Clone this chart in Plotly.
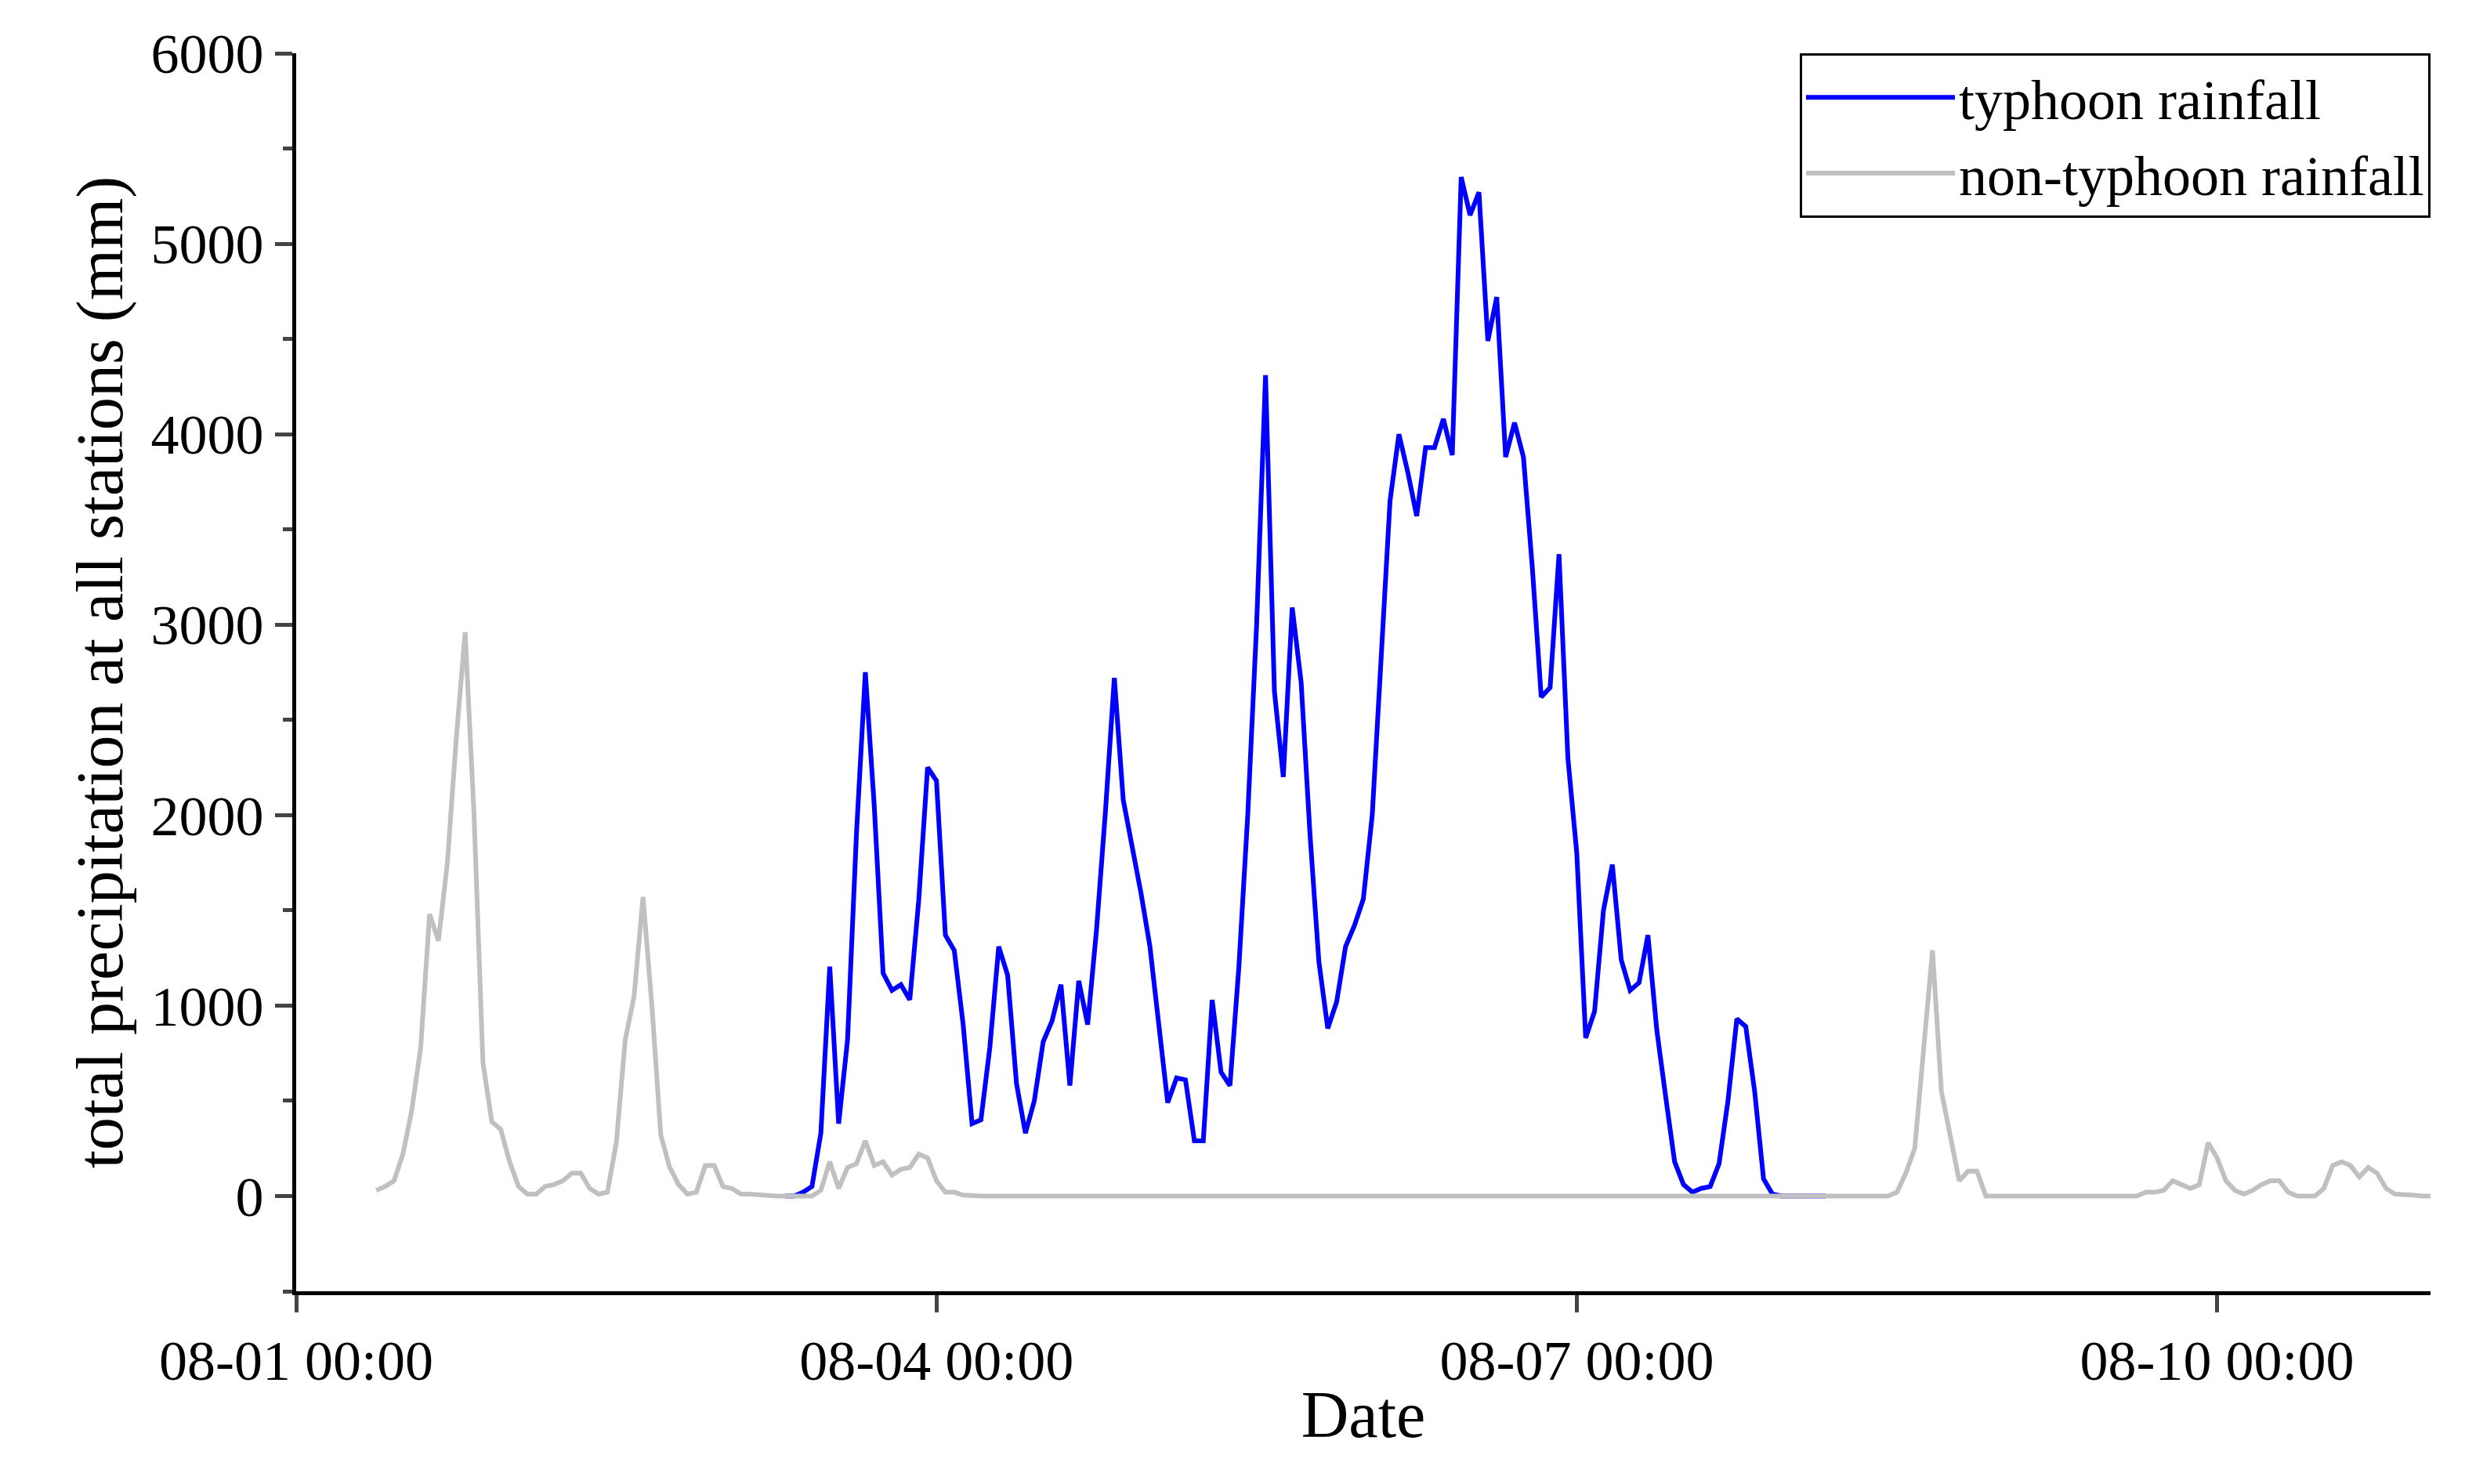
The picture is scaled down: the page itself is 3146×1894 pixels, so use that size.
import plotly.graph_objects as go
import pandas as pd

start = pd.Timestamp("2023-08-01 00:00")

gray_start_hour = 9
gray_values = ([30,50,80,220,450,780,1480,1340,1750,2400,2960,2000,700,390,350,180,50,10,10,50,
                60,80,120,120,40,10,20,280,820,1050,1570,1000,320,150,60,10,20,160,160,50,40,10,10,5]
               + [0]*6
               + [30,180,40,150,170,290,160,180,110,140,150,220,200,80,20,20,5]
               + [0]*104
               + [20,120,250,800,1290,550,300,80,130,130,0]
               + [0]*17
               + [20,20,30,80,60,40,60,280,200,80,30,10,30,60,80,80,20,0,0,0,40,
                  160,180,160,100,150,120,40,10,10,5,0,0])

blue_start_hour = 55
blue_values = ([0,0,20,50,330,1205,380,820,1900,2750,2050,1170,1080,1110,1030,1550,2250,2180,1370,1290,
                900,380,400,780,1310,1160,590,330,500,810,920,1110,580,1130,900,1400,2020,2720,2080,1850,
                1590,1310,900,490,620,610,290,290,1030,650,580,1200,2000,3000,4310,2650,2200,3090,2700,1900,
                1230,880,1020,1310,1420,1560,2000,2800,3650,4000,3800,3570,3930,3930,4080,3890,5350,5150,5270,4490,
                4720,3880,4060,3880,3300,2620,2670,3370,2300,1800,830,970,1500,1740,1240,1080,1120,1370,870,520,
                180,60,20,40,50,170,500,930,890,550,90,10]
               + [0]*6)

gray_t = [start + pd.Timedelta(hours=gray_start_hour + i) for i in range(len(gray_values))]
blue_t = [start + pd.Timedelta(hours=blue_start_hour + i) for i in range(len(blue_values))]

font = "Liberation Serif"
fig = go.Figure()
fig.add_trace(go.Scatter(x=blue_t, y=blue_values, mode="lines", name="typhoon rainfall",
                         line=dict(color="#0000FF", width=6)))
fig.add_trace(go.Scatter(x=gray_t, y=gray_values, mode="lines", name="non-typhoon rainfall",
                         line=dict(color="#C0C0C0", width=6)))

fig.update_layout(
    width=3146, height=1894, plot_bgcolor="white", paper_bgcolor="white",
    margin=dict(l=370, r=52, t=60, b=254),
    font=dict(family=font, size=72, color="black"),
    legend=dict(x=1, y=1, xanchor="right", yanchor="top", bordercolor="black", borderwidth=3,
                bgcolor="white", font=dict(size=72), itemwidth=190),
    xaxis=dict(range=[start, start + pd.Timedelta(days=10)], tickformat="%m-%d %H:%M",
               tick0=start, dtick=3*86400000, showline=True, linecolor="black", linewidth=5,
               ticks="outside", ticklen=22, tickwidth=5, showgrid=False,
               title=dict(text="Date", font=dict(size=84), standoff=0), tickfont=dict(size=72)),
    yaxis=dict(range=[-500, 6000], tick0=0, dtick=1000, showline=True, linecolor="black", linewidth=5,
               ticks="outside", ticklen=22, tickwidth=5, showgrid=False, zeroline=False,
               minor=dict(dtick=500, ticks="outside", ticklen=12, tickwidth=5),
               title=dict(text="total precipitation at all stations (mm)", font=dict(size=84), standoff=10),
               tickfont=dict(size=72)),
)
fig.write_html("out.html")
